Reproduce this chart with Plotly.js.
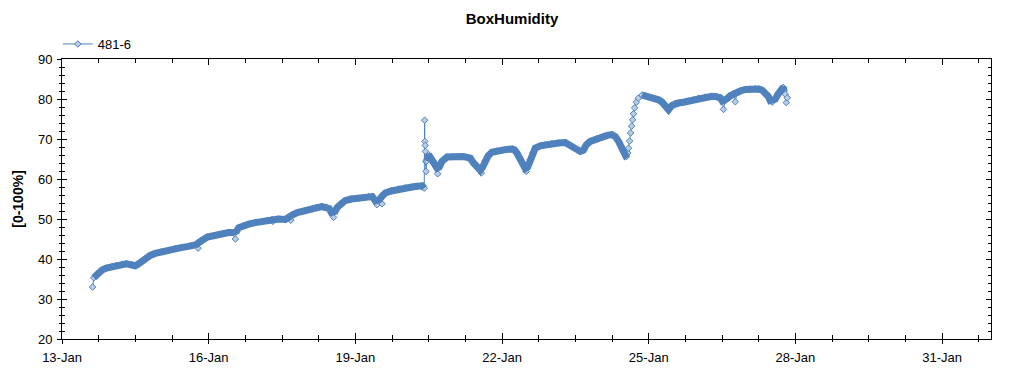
<!DOCTYPE html>
<html>
<head>
<meta charset="utf-8">
<script src="https://cdn.plot.ly/plotly-3.0.1.min.js"></script>
<style>html,body{margin:0;padding:0;background:#fff;}#chart{width:1024px;height:375px;}</style>
</head>
<body>
<div id="chart"></div>
<script>
// Series "481-6": hours since 13-Jan 00:00, humidity values, and point kind
// kind: 0 = on the main band, 1 = isolated point off the band, 2 = fast transition
const seriesName = '481-6';
const startDay = '2021-01-13';
const hours = [
  15.0, 15.6, 17.3, 19.6, 21.7, 24.5, 26.7, 29.5, 31.6, 34.4, 36.0, 37.6, 39.4, 40.9, 43.3, 45.8, 48.7, 52.3, 55.6, 58.9,
  61.5, 63.8, 65.9, 66.8, 67.4, 68.7, 71.3, 74.4, 76.9, 79.2, 81.8, 83.6, 85.1, 85.8, 86.7, 89.0, 91.6, 94.9, 98.2, 100.8,
  103.1, 103.5, 106.2, 109.6, 111.1, 112.3, 113.0, 115.5, 117.8, 119.9, 122.7, 124.8, 127.6, 129.7, 131.2, 132.2, 133.3, 134.1, 135.1, 136.6,
  139.0, 142.0, 145.6, 147.9, 150.5, 152.3, 153.8, 154.6, 155.7, 157.1, 157.7, 158.7, 161.6, 165.2, 168.5, 171.8, 174.4, 176.8, 177.8, 178.0,
  178.1, 178.3, 178.4, 178.6, 178.7, 179.0, 179.9, 181.3, 182.4, 184.1, 184.4, 185.2, 186.5, 189.0, 191.6, 194.7, 197.0, 198.8, 200.4, 202.0,
  203.7, 205.3, 205.8, 206.5, 207.8, 209.2, 211.0, 213.2, 216.0, 218.1, 220.9, 222.0, 223.3, 224.9, 226.6, 227.4, 227.9, 228.6, 229.8, 231.1,
  232.3, 234.8, 237.2, 240.2, 243.7, 247.0, 249.0, 251.1, 252.9, 254.4, 255.9, 257.3, 259.3, 262.2, 265.0, 267.6, 269.9, 271.6, 273.2, 274.5,
  275.6, 276.5, 277.0, 277.7, 278.1, 278.6, 279.1, 279.6, 280.1, 280.5, 281.1, 281.9, 282.9, 284.7, 286.3, 287.9, 290.2, 292.8, 294.6, 296.1,
  297.7, 299.4, 301.0, 302.6, 304.9, 307.4, 310.0, 312.4, 315.7, 319.0, 321.1, 323.1, 324.1, 324.7, 325.6, 326.5, 328.0, 329.5, 330.5, 331.4,
  332.9, 335.4, 337.8, 340.3, 341.9, 343.7, 345.2, 346.7, 347.6, 348.6, 350.1, 351.6, 353.4, 354.0, 354.5, 355.0, 355.5, 356.0
];
const humidity = [
  33.0, 35.3, 36.3, 37.2, 37.7, 38.1, 38.4, 38.7, 38.8, 38.5, 38.3, 38.8, 39.5, 40.1, 40.9, 41.4, 41.8, 42.2, 42.6, 42.9,
  43.1, 43.3, 43.6, 42.7, 44.2, 44.7, 45.5, 45.8, 46.2, 46.4, 46.6, 46.6, 45.0, 47.0, 47.8, 48.3, 48.7, 49.1, 49.4, 49.7,
  49.9, 49.4, 50.0, 49.9, 50.2, 49.7, 51.0, 51.6, 51.8, 52.2, 52.5, 52.8, 53.1, 53.0, 52.6, 51.6, 50.4, 51.9, 52.9, 53.8,
  54.6, 55.0, 55.2, 55.4, 55.6, 55.6, 54.5, 53.6, 54.8, 53.8, 56.0, 56.5, 57.0, 57.5, 57.8, 58.0, 58.2, 58.3, 57.7, 74.7,
  69.4, 68.4, 66.9, 64.4, 61.9, 64.5, 66.1, 65.0, 64.0, 62.7, 61.3, 63.0, 64.4, 65.5, 65.6, 65.6, 65.6, 65.4, 65.2, 64.0,
  63.2, 62.2, 61.5, 63.0, 64.6, 65.8, 66.7, 67.0, 67.2, 67.4, 67.5, 67.3, 66.5, 65.0, 63.6, 62.6, 61.9, 63.0, 64.8, 66.5,
  67.7, 68.3, 68.6, 68.8, 69.0, 69.1, 68.6, 67.9, 67.3, 66.9, 67.2, 68.5, 69.4, 70.0, 70.5, 70.9, 71.1, 70.6, 69.4, 68.0,
  66.9, 66.0, 65.6, 66.5, 67.7, 69.5, 71.5, 73.2, 74.8, 76.3, 77.8, 79.2, 80.2, 81.0, 80.8, 80.5, 80.2, 79.8, 79.2, 78.2,
  77.3, 78.4, 78.9, 79.0, 79.2, 79.5, 79.8, 80.2, 80.5, 80.7, 80.6, 80.3, 79.5, 77.4, 79.6, 80.1, 80.8, 81.3, 79.3, 81.7,
  82.0, 82.4, 82.5, 82.6, 82.5, 82.2, 81.6, 80.6, 79.6, 79.2, 80.0, 81.3, 82.7, 82.9, 82.0, 81.2, 79.1, 80.3
];
const pointKind = [
  1, 0, 0, 0, 0, 0, 0, 0, 0, 0, 0, 0, 0, 0, 0, 0, 0, 0, 0, 0,
  0, 0, 0, 1, 0, 0, 0, 0, 0, 0, 0, 0, 1, 0, 0, 0, 0, 0, 0, 0,
  0, 1, 0, 0, 0, 1, 0, 0, 0, 0, 0, 0, 0, 0, 0, 0, 1, 0, 0, 0,
  0, 0, 0, 0, 0, 0, 0, 1, 0, 1, 0, 0, 0, 0, 0, 0, 0, 0, 0, 2,
  2, 2, 2, 2, 2, 0, 0, 0, 0, 0, 1, 0, 0, 0, 0, 0, 0, 0, 0, 0,
  0, 0, 1, 0, 0, 0, 0, 0, 0, 0, 0, 0, 0, 0, 0, 0, 1, 0, 0, 0,
  0, 0, 0, 0, 0, 0, 0, 0, 0, 0, 0, 0, 0, 0, 0, 0, 0, 0, 0, 0,
  0, 0, 1, 0, 2, 2, 2, 2, 2, 2, 2, 2, 2, 0, 0, 0, 0, 0, 0, 0,
  0, 0, 0, 0, 0, 0, 0, 0, 0, 0, 0, 0, 0, 1, 0, 0, 0, 0, 1, 0,
  0, 0, 0, 0, 0, 0, 0, 0, 0, 1, 0, 0, 0, 0, 0, 1, 1, 1
];

const lineBlue = '#4f81bd';
const fillBlue = '#b9cde5';
const fontFam = '"Liberation Sans", Arial, sans-serif';

const t0 = Date.parse(startDay + 'T00:00:00Z');
function pad(n){ return (n < 10 ? '0' : '') + n; }
function toDate(h){
  const d = new Date(t0 + Math.round(h * 3600000));
  return d.getUTCFullYear() + '-' + pad(d.getUTCMonth()+1) + '-' + pad(d.getUTCDate()) + ' ' +
         pad(d.getUTCHours()) + ':' + pad(d.getUTCMinutes()) + ':' + pad(d.getUTCSeconds());
}
const xs = hours.map(toDate);

// band line: on-band points, broken at fast transitions
const bandX = [], bandY = [];
for (let i = 0; i < xs.length; i++) {
  if (pointKind[i] === 0) { bandX.push(xs[i]); bandY.push(humidity[i]); }
  else if (pointKind[i] === 2 && pointKind[i-1] !== 2) { bandX.push(null); bandY.push(null); }
}

const traces = [
  {
    x: xs, y: humidity, name: seriesName, type: 'scatter', mode: 'lines+markers',
    line: {color: lineBlue, width: 1},
    marker: {symbol: 'diamond', size: 5, color: fillBlue, line: {color: lineBlue, width: 1}},
    hoverinfo: 'skip'
  },
  {
    x: bandX, y: bandY, type: 'scatter', mode: 'lines', showlegend: false,
    connectgaps: false, line: {color: lineBlue, width: 7}, hoverinfo: 'skip'
  },
  { x: [], y: [], xaxis: 'x2', yaxis: 'y2', type: 'scatter', showlegend: false, hoverinfo: 'skip' }
];

const xRange = ['2021-01-13', '2021-02-01'];
const DAY = 86400000;
const tickFont = {family: fontFam, size: 13, color: '#000'};

const layout = {
  width: 1024, height: 375,
  margin: {l: 62, r: 33, t: 59, b: 36, pad: 0},
  paper_bgcolor: '#fff', plot_bgcolor: '#fff',
  font: {family: fontFam, size: 13, color: '#000'},
  title: {text: 'BoxHumidity', font: {family: fontFam, size: 15, color: '#000', weight: 'bold'},
          xref: 'container', x: 0.5, xanchor: 'center', yref: 'container', y: 1 - 19/375, yanchor: 'middle'},
  showlegend: true,
  legend: {x: -0.0045, xanchor: 'left', y: 1, yanchor: 'bottom', orientation: 'h',
           font: {family: fontFam, size: 13, color: '#000'}, bgcolor: 'rgba(0,0,0,0)', itemwidth: 30},
  xaxis: {
    type: 'date', range: xRange, tick0: startDay, dtick: 3*DAY, tickformat: '%d-%b',
    ticks: 'inside', ticklen: 6, tickwidth: 1, tickcolor: '#000',
    showline: true, linecolor: '#000', linewidth: 1, mirror: 'ticks',
    showgrid: false, zeroline: false, tickfont: tickFont, ticklabelstandoff: 6,
    minor: {dtick: 18*3600000, tick0: startDay, ticks: 'inside', ticklen: 4, tickcolor: '#000', tickwidth: 1, showgrid: false}
  },
  yaxis: {
    range: [20, 90], dtick: 10, tick0: 20,
    ticks: 'inside', ticklen: 5, tickwidth: 1, tickcolor: '#000',
    showline: true, linecolor: '#000', linewidth: 1, mirror: 'ticks',
    showgrid: false, zeroline: false, tickfont: tickFont, ticklabelstandoff: 6,
    title: {text: '[0-100%]', font: {family: fontFam, size: 14, color: '#000', weight: 'bold'}, standoff: 11},
    minor: {dtick: 2, tick0: 20, ticks: 'inside', ticklen: 3, tickcolor: '#000', tickwidth: 1, showgrid: false}
  },
  xaxis2: {
    type: 'date', overlaying: 'x', anchor: 'y', side: 'bottom', range: xRange, tick0: startDay, dtick: 3*DAY,
    ticks: 'outside', ticklen: 4, tickcolor: '#000', showticklabels: false, showline: false, showgrid: false, zeroline: false,
    minor: {dtick: 18*3600000, tick0: startDay, ticks: 'outside', ticklen: 2, tickcolor: '#000', showgrid: false}
  },
  yaxis2: {
    overlaying: 'y', anchor: 'x', side: 'left', range: [20, 90], dtick: 10, tick0: 20,
    ticks: 'outside', ticklen: 4, tickcolor: '#000', showticklabels: false, showline: false, showgrid: false, zeroline: false,
    minor: {dtick: 2, tick0: 20, ticks: 'outside', ticklen: 2, tickcolor: '#000', showgrid: false}
  }
};

Plotly.newPlot('chart', traces, layout, {displayModeBar: false, staticPlot: true});
</script>
</body>
</html>
